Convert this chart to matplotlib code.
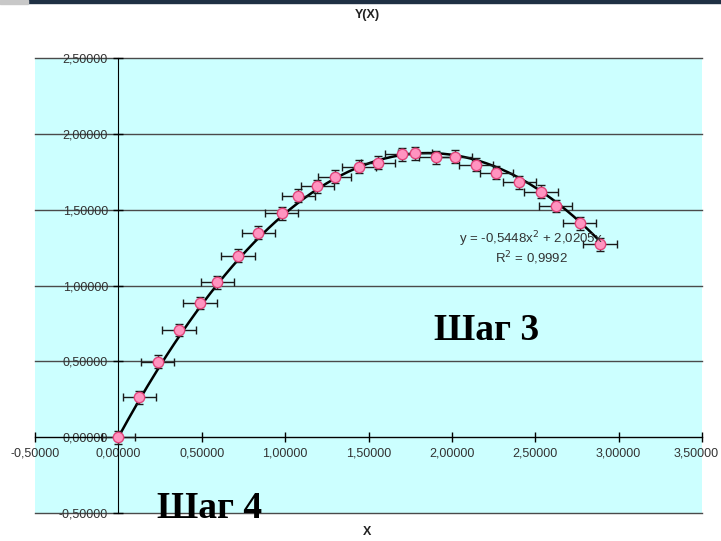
import numpy as np
import matplotlib
matplotlib.use("Agg")
import matplotlib.pyplot as plt
from matplotlib.ticker import FuncFormatter, MultipleLocator
from matplotlib.patches import Rectangle

# measured points
x_vals = [0.000, 0.125, 0.236, 0.363, 0.489, 0.594, 0.717, 0.840, 0.979,
          1.080, 1.193, 1.297, 1.442, 1.557, 1.700, 1.779, 1.902, 2.020,
          2.145, 2.266, 2.405, 2.534, 2.623, 2.766, 2.888]
y_vals = [0.000, 0.262, 0.497, 0.706, 0.884, 1.020, 1.196, 1.348, 1.476,
          1.592, 1.654, 1.717, 1.783, 1.809, 1.865, 1.871, 1.845, 1.849,
          1.796, 1.743, 1.680, 1.618, 1.524, 1.410, 1.271]
x_err = 0.1
y_err = 0.042

# trendline coefficients (as shown on the chart)
coef_a = -0.5448
coef_b = 2.0205
r2 = 0.9992

x_max = 3.5


def num(v):
    return f"{v:.5f}".replace('.', ',')


plt.rcParams['font.family'] = ['Liberation Sans', 'DejaVu Sans']

fig = plt.figure(figsize=(7.21, 5.41), dpi=100)
ax = fig.add_axes([35 / 721, 1 - 513 / 541, 667 / 721, 455 / 541])
ax.set_facecolor('#CCFFFF')

# screenshot frame remnants
fig.patches.append(Rectangle((28 / 721, 1 - 3 / 541), 1, 3 / 541,
                             transform=fig.transFigure, color='#1F3044'))
fig.patches.append(Rectangle((0, 1 - 4 / 541), 28 / 721, 4 / 541,
                             transform=fig.transFigure, color='#C8C8C8'))

ax.set_xlim(-0.5, x_max)
ax.set_ylim(-0.5, 2.5)

ax.yaxis.set_major_locator(MultipleLocator(0.5))
ax.xaxis.set_major_locator(MultipleLocator(0.5))
# last x label is drawn separately so it stays inside the figure
ax.xaxis.set_major_formatter(FuncFormatter(lambda v, p: '' if v >= x_max - 1e-9 else num(v)))
ax.yaxis.set_major_formatter(FuncFormatter(lambda v, p: num(v)))

# horizontal gridlines, including the plot-area edges
for yv in np.arange(-0.5, 2.51, 0.5):
    ax.axhline(yv, color='#4A4A4A', lw=1.0, zorder=0.5, clip_on=False)

for s in ['top', 'right']:
    ax.spines[s].set_visible(False)
ax.spines['left'].set_position(('data', 0))
ax.spines['bottom'].set_position(('data', 0))
ax.spines['left'].set_color('black')
ax.spines['bottom'].set_color('black')

ax.tick_params(axis='both', direction='inout', length=7, width=1,
               labelsize=9, labelcolor='#333333', color='black')
ax.tick_params(axis='y', pad=4)
ax.tick_params(axis='x', pad=4)

ax.annotate(num(x_max), xy=(x_max, 0), xytext=(-4, -7.6), textcoords='offset points',
            ha='center', va='top', fontsize=9, color='#333333', annotation_clip=False)

# trend line
xt = np.linspace(min(x_vals), max(x_vals), 200)
ax.plot(xt, coef_a * xt ** 2 + coef_b * xt, color='black', lw=1.8, zorder=3)

ax.errorbar(x_vals, y_vals, xerr=x_err, yerr=y_err, fmt='o', ms=7.5,
            mfc='#FF94C0', mec='#E0457B', mew=1.0, ecolor='#1A1A1A',
            elinewidth=1.0, capsize=3, capthick=1.0, zorder=4)

ax.text(2.475, 1.305, "y = -0,5448x$^2$ + 2,0205x", fontsize=9.5,
        color='#333333', ha='center', va='center', zorder=5)
ax.text(2.475, 1.18, f"R$^2$ = {r2:.4f}".replace('.', ','), fontsize=9.5,
        color='#333333', ha='center', va='center', zorder=5)

fig.text(367 / 721, 1 - 15 / 541, "Y(X)", fontsize=9, fontweight='bold',
         ha='center', va='center', color='#222222')
fig.text(367 / 721, 1 - 532 / 541, "X", fontsize=9, fontweight='bold',
         ha='center', va='center', color='#222222')

fig.text(487 / 721, 1 - 330 / 541, "Шаг 3", fontsize=27, fontweight='bold',
         family=['Liberation Serif', 'DejaVu Serif'], ha='center', va='center')
fig.text(210 / 721, 1 - 508 / 541, "Шаг 4", fontsize=27, fontweight='bold',
         family=['Liberation Serif', 'DejaVu Serif'], ha='center', va='center')

fig.savefig('out.png', dpi=100)
